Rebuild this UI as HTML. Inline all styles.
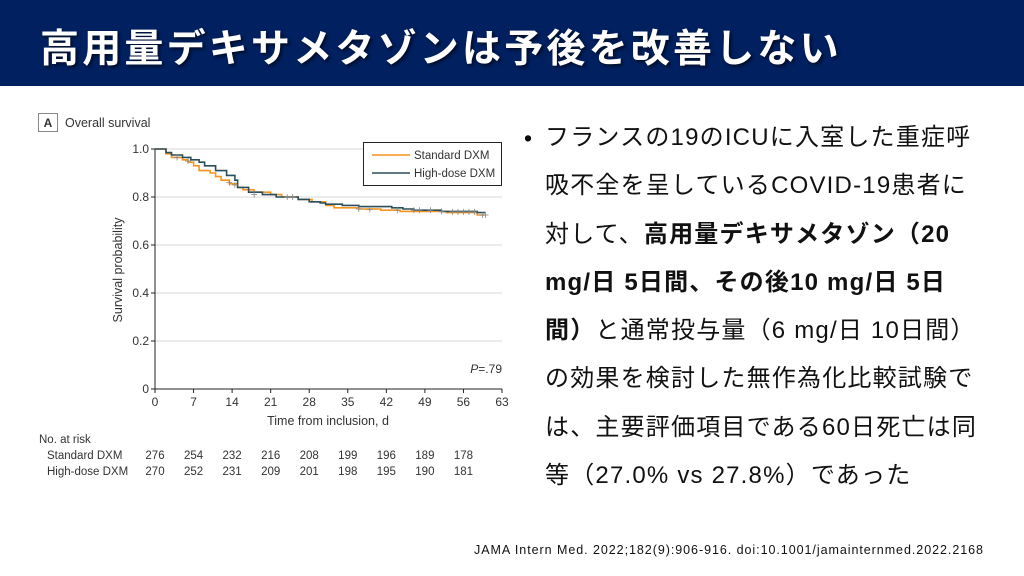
<!DOCTYPE html>
<html><head><meta charset="utf-8">
<style>
body{margin:0;width:1024px;height:576px;overflow:hidden;background:#fff;font-family:"Liberation Sans","Noto Sans CJK JP",sans-serif;position:relative}
.hdr{position:absolute;left:0;top:0;width:1024px;height:86px;background:#002060}
.hdr h1{position:absolute;left:40px;top:18px;margin:0;font-size:39px;font-weight:bold;color:#fff;letter-spacing:3.2px;text-shadow:2px 2px 3px rgba(0,0,0,.6);white-space:nowrap;font-family:"Liberation Sans","Noto Sans CJK JP",sans-serif}
.txt{position:absolute;left:545px;top:114px;font-size:24px;line-height:48.3px;color:#111;white-space:nowrap;letter-spacing:1.2px}
.txt b{font-weight:bold}
.bul{position:absolute;left:524px;top:114px;font-size:23px;line-height:48px}
.cite{position:absolute;left:474px;top:543px;font-size:12.5px;color:#111;white-space:nowrap;letter-spacing:0.95px}
svg text{font-family:"Liberation Sans Narrow","Liberation Sans",sans-serif}
</style></head><body>
<div class="hdr"><h1>高用量デキサメタゾンは予後を改善しない</h1></div>
<div class="bul">•</div>
<div class="txt">フランスの19のICUに入室した重症呼<br>吸不全を呈しているCOVID-19患者に<br>対して、<b>高用量デキサメタゾン（20</b><br><b>mg/日 5日間、その後10 mg/日 5日</b><br><b>間）</b>と通常投与量（6 mg/日 10日間）<br>の効果を検討した無作為化比較試験で<br>は、主要評価項目である60日死亡は同<br>等（27.0% vs 27.8%）であった</div>
<div class="cite">JAMA Intern Med. 2022;182(9):906-916. doi:10.1001/jamainternmed.2022.2168</div>
<svg id="c" width="520" height="490" style="position:absolute;left:0;top:0" xmlns="http://www.w3.org/2000/svg">
<rect x="38.5" y="113.5" width="19" height="18" fill="none" stroke="#888"/>
<text x="48" y="127" font-size="12" font-weight="bold" text-anchor="middle" fill="#333">A</text>
<text x="65" y="127" font-size="12.5" fill="#333">Overall survival</text>
<g stroke="#e6e6e6" stroke-width="1.5">
<line x1="155" x2="502" y1="149" y2="149"/><line x1="155" x2="502" y1="197" y2="197"/><line x1="155" x2="502" y1="245" y2="245"/><line x1="155" x2="502" y1="293" y2="293"/><line x1="155" x2="502" y1="341" y2="341"/>
</g>
<g id="ax" stroke="#222" stroke-width="1"></g>
<g id="lab" font-size="12" fill="#333"></g>
<path id="s1" fill="none" stroke="#f7941d" stroke-width="1.6"/>
<path id="s2" fill="none" stroke="#2b4e5c" stroke-width="1.6"/>
<g id="cens" stroke="#888" stroke-width="0.8"></g>
<rect x="363.5" y="142.5" width="138" height="43" fill="#fff" stroke="#222"/>
<line x1="372" x2="410" y1="155" y2="155" stroke="#f7941d" stroke-width="1.6"/>
<line x1="372" x2="410" y1="173" y2="173" stroke="#2b4e5c" stroke-width="1.6"/>
<text x="414" y="159" font-size="11.5" fill="#333">Standard DXM</text>
<text x="414" y="177" font-size="11.5" fill="#333">High-dose DXM</text>
<text x="502" y="373" font-size="12" fill="#333" text-anchor="end"><tspan font-style="italic">P</tspan>=.79</text>
<text x="328" y="425" font-size="12.5" fill="#333" text-anchor="middle">Time from inclusion, d</text>
<text transform="translate(122,270) rotate(-90)" font-size="12.5" fill="#333" text-anchor="middle">Survival probability</text>
<text x="39" y="443" font-size="11.5" fill="#333">No. at risk</text>
<text x="47" y="459" font-size="11.5" fill="#333">Standard DXM</text>
<text x="47" y="475" font-size="11.5" fill="#333">High-dose DXM</text>
</svg>
<script>
var X=function(d){return 155+347/63*d},Y=function(p){return 389-240*p};
var ax=document.getElementById('ax'),lab=document.getElementById('lab'),ns='http://www.w3.org/2000/svg';
function el(p,t,a,txt){var e=document.createElementNS(ns,t);for(var k in a)e.setAttribute(k,a[k]);if(txt!=null)e.textContent=txt;p.appendChild(e);return e}
el(ax,'line',{x1:155,x2:155,y1:149,y2:389});el(ax,'line',{x1:155,x2:502,y1:389,y2:389});
for(var i=0;i<=5;i++){var y=Y(i*0.2);el(ax,'line',{x1:151,x2:155,y1:y,y2:y});el(lab,'text',{x:149,y:y+4,'text-anchor':'end'},i==0?'0':(i==5?'1.0':'0.'+(2*i)));}
var s=[276,254,232,216,208,199,196,189,178],h=[270,252,231,209,201,198,195,190,181];
for(var d=0;d<=63;d+=7){var x=X(d);el(ax,'line',{x1:x,x2:x,y1:389,y2:393});el(lab,'text',{x:x,y:406,'text-anchor':'middle'},d);
 var k=d/7;if(k<9){el(lab,'text',{x:x,y:459,'text-anchor':'middle','font-size':11.5},s[k]);el(lab,'text',{x:x,y:475,'text-anchor':'middle','font-size':11.5},h[k]);}}
function path(a,end){var p='M'+X(0)+','+Y(1);a.forEach(function(q){p+='H'+X(q[0]).toFixed(1)+'V'+Y(q[1]).toFixed(1)});return p+'H'+X(end)}
var A=[[2,0.98],[3,0.965],[5,0.955],[6,0.945],[7,0.93],[8,0.91],[10,0.9],[11,0.885],[12,0.87],[13.5,0.855],[15,0.84],[16,0.83],[18,0.82],[21,0.81],[23,0.8],[26,0.79],[28.5,0.78],[31,0.765],[32.5,0.755],[37,0.75],[41,0.745],[44.5,0.74],[53,0.735],[58.5,0.725]];
var B=[[2,0.985],[3,0.975],[5,0.965],[6.5,0.955],[8,0.945],[9,0.93],[11,0.91],[13,0.89],[14.5,0.87],[15,0.84],[17,0.82],[19.5,0.81],[22,0.8],[26,0.79],[28,0.78],[30,0.775],[31,0.77],[34,0.765],[37,0.76],[43,0.755],[45,0.75],[47,0.745],[52,0.74],[58.5,0.735]];
document.getElementById('s1').setAttribute('d',path(A,60));
document.getElementById('s2').setAttribute('d',path(B,60));
var c=document.getElementById('cens');
[[4,0.965],[6,0.95],[13.5,0.86],[14.5,0.85],[18,0.81],[24,0.8],[25,0.8],[37,0.75],[39,0.748],[44,0.745],[47,0.745],[48,0.745],[50,0.745],[52,0.74],[54,0.738],[55,0.738],[56,0.738],[57,0.738],[58,0.738],[59.5,0.725],[60,0.725]].forEach(function(q){var x=X(q[0]),y=Y(q[1]);el(c,'line',{x1:x,x2:x,y1:y-3,y2:y+3});el(c,'line',{x1:x-3,x2:x+3,y1:y,y2:y})});
</script>
</body></html>
